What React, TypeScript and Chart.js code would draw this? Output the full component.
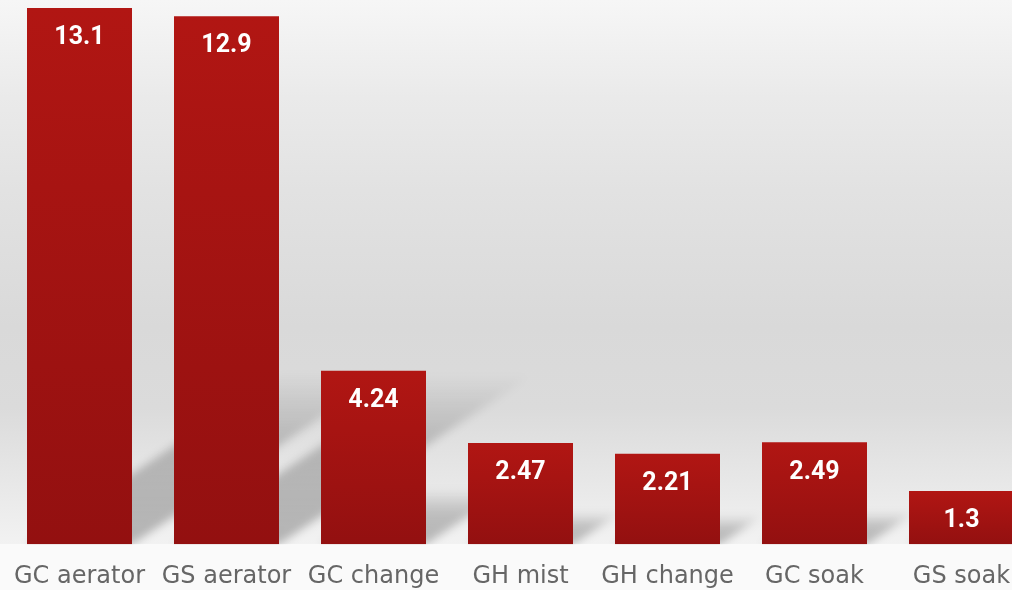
import React, { useEffect, useRef } from "react";
import { Chart, registerables } from "chart.js";

Chart.register(...registerables);

const categories = ["GC aerator", "GS aerator", "GC change", "GH mist", "GH change", "GC soak", "GS soak"];
const values = [13.1, 12.9, 4.24, 2.47, 2.21, 2.49, 1.3];
const valueLabels = ["13.1", "12.9", "4.24", "2.47", "2.21", "2.49", "1.3"];
const yMax = 13.1;

const bgPlugin = {
  id: "bgPlugin",
  beforeDraw(chart: any) {
    const { ctx, chartArea, width, height } = chart;
    const bottom = chartArea.bottom;
    ctx.save();
    const g = ctx.createLinearGradient(0, 0, 0, bottom);
    g.addColorStop(0, "#f6f6f6");
    g.addColorStop(0.18, "#eaeaea");
    g.addColorStop(0.35, "#e2e2e2");
    g.addColorStop(0.6, "#d9d9d9");
    g.addColorStop(0.75, "#dbdbdb");
    g.addColorStop(0.87, "#e6e6e6");
    g.addColorStop(1, "#f2f2f2");
    ctx.fillStyle = g;
    ctx.fillRect(0, 0, width, bottom);
    ctx.fillStyle = "#fafafa";
    ctx.fillRect(0, bottom, width, height - bottom);
    ctx.restore();
  },
};

const shadowPlugin = {
  id: "shadowPlugin",
  beforeDatasetsDraw(chart: any) {
    const { ctx, chartArea } = chart;
    const meta = chart.getDatasetMeta(0);
    ctx.save();
    ctx.beginPath();
    ctx.rect(0, 0, chart.width, chartArea.bottom);
    ctx.clip();
    ctx.filter = "blur(4px)";
    meta.data.forEach((el: any) => {
      const { x, y, base, width } = el.getProps(["x", "y", "base", "width"], true);
      const h = base - y;
      const L = 0.48 * h;
      const dx = L;
      const dy = 0.67 * L;
      const xl = x - width / 2;
      const xr = x + width / 2;
      const g = ctx.createLinearGradient(0, base, 0, base - dy);
      g.addColorStop(0, "rgba(0,0,0,0.25)");
      g.addColorStop(0.55, "rgba(0,0,0,0.2)");
      g.addColorStop(1, "rgba(0,0,0,0)");
      ctx.fillStyle = g;
      ctx.beginPath();
      ctx.moveTo(xl, base);
      ctx.lineTo(xr, base);
      ctx.lineTo(xr + dx, base - dy);
      ctx.lineTo(xl + dx, base - dy);
      ctx.closePath();
      ctx.fill();
    });
    ctx.restore();
  },
};

const labelPlugin = {
  id: "labelPlugin",
  afterDatasetsDraw(chart: any) {
    const { ctx } = chart;
    const meta = chart.getDatasetMeta(0);
    ctx.save();
    ctx.fillStyle = "#ffffff";
    ctx.font = "bold 25px Roboto";
    ctx.textAlign = "center";
    ctx.textBaseline = "middle";
    meta.data.forEach((el: any, i: number) => {
      const { x, y } = el.getProps(["x", "y"], true);
      ctx.fillText(valueLabels[i], x, y + 30);
    });
    ctx.restore();
  },
};

export default function App() {
  const ref = useRef<HTMLCanvasElement | null>(null);

  useEffect(() => {
    if (!ref.current) return;
    const chart = new Chart(ref.current, {
      type: "bar",
      data: {
        labels: categories,
        datasets: [
          {
            data: values,
            borderWidth: 0,
            barPercentage: 105 / 147,
            categoryPercentage: 1,
            backgroundColor: (c: any) => {
              const ch = c.chart;
              if (c.type !== "data" || !ch.chartArea) return "#a51312";
              const ys = ch.scales.y;
              const top = ys.getPixelForValue(values[c.dataIndex]);
              const bottom = ys.getPixelForValue(0);
              const g = ch.ctx.createLinearGradient(0, top, 0, bottom);
              g.addColorStop(0, "#b11613");
              g.addColorStop(1, "#931010");
              return g;
            },
          },
        ],
      },
      options: {
        responsive: false,
        animation: false,
        layout: { padding: { left: 6, right: 5, top: 8, bottom: 0 } },
        plugins: {
          legend: { display: false },
          tooltip: { enabled: false },
        },
        scales: {
          x: {
            grid: { display: false, drawTicks: false },
            border: { display: false },
            afterFit: (scale: any) => {
              scale.paddingLeft = 0;
              scale.paddingRight = 0;
            },
            ticks: {
              color: "#666666",
              font: { family: "'DejaVu Sans'", size: 24 },
              padding: 18,
              maxRotation: 0,
              autoSkip: false,
            },
          },
          y: { display: false, min: 0, max: yMax },
        },
      },
      plugins: [bgPlugin, shadowPlugin, labelPlugin],
    });
    return () => chart.destroy();
  }, []);

  return (
    <div style={{ position: "absolute", left: 0, top: 0, width: 1012, height: 590, overflow: "hidden" }}>
      <canvas ref={ref} width={1040} height={609} style={{ display: "block" }} />
    </div>
  );
}
